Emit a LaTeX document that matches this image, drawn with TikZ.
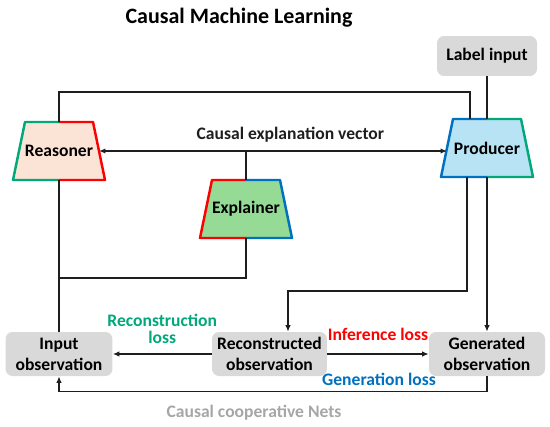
\documentclass[tikz,border=0pt]{standalone}
\usepackage{fontspec}
\setmainfont{Carlito}
\usepackage{tikz}
\usetikzlibrary{arrows.meta,positioning}
\definecolor{CmlInk}{HTML}{1E1E1E}
\definecolor{CmlGray}{HTML}{D9D9D9}
\definecolor{CmlMute}{HTML}{A6A6A6}
\definecolor{CmlGreen}{HTML}{00A87A}
\definecolor{CmlRed}{HTML}{FF0000}
\definecolor{CmlBlue}{HTML}{0070C0}
\definecolor{CmlPeach}{HTML}{FBE3D6}
\definecolor{CmlSky}{HTML}{B8E3F5}
\definecolor{CmlLeaf}{HTML}{95DA95}
% a network: name, x, y, fill, left rim, right rim, text
\newcommand{\trapnet}[7]{%
  \fill[#4] (#2-34,#3-29) -- (#2+34,#3-29) -- (#2+46,#3+29) -- (#2-46,#3+29) -- cycle;
  \draw[half, #5] (#2,#3-29) -- (#2-34,#3-29) -- (#2-46,#3+29) -- (#2,#3+29);
  \draw[half, #6] (#2,#3-29) -- (#2+34,#3-29) -- (#2+46,#3+29) -- (#2,#3+29);
  \node[minimum width=1.6cm, minimum height=1.16cm, inner sep=0pt, outer sep=0pt] (#1) at (#2,#3) {#7};}

\begin{document}
\begin{tikzpicture}[x=0.02cm, y=-0.02cm, font=\fontsize{10}{12}\selectfont\bfseries,
  link/.style={draw=CmlInk, line width=0.8pt},
  tip/.style={-{Latex[length=1.3mm,width=1.1mm]}},
  obsbox/.style={fill=CmlGray, rounded corners=4pt, minimum height=0.88cm, align=center, inner sep=2pt},
  half/.style={line width=1.4pt, line join=round}]
  \useasboundingbox (0,0) rectangle (550,426);
  \node (title) at (239,18) {\fontsize{12.5}{14}\selectfont Causal Machine Learning};
  \node[obsbox, minimum width=2cm, minimum height=0.8cm] (label) at (487,56) {Label input};
  % the three networks
  \trapnet{reasoner}{59}{151}{CmlPeach}{CmlGreen}{CmlRed}{Reasoner}
  \trapnet{producer}{487}{148}{CmlSky}{CmlBlue}{CmlGreen}{Producer}
  \trapnet{explainer}{246}{209}{CmlLeaf}{CmlRed}{CmlBlue}{Explainer}
  % observations
  \node[obsbox, minimum width=2.14cm] (input) at (59,354) {Input\\observation};
  \node[obsbox, minimum width=2.3cm] (reconstructed) at (269.5,354) {Reconstructed\\observation};
  \node[obsbox, minimum width=2.32cm] (generated) at (487,354) {Generated\\observation};
  % connectors
  \draw[link] (reasoner.north) -- ++(0,-30) -| ([xshift=-0.34cm]producer.north);
  \draw[link, {Latex[length=1.3mm,width=1.1mm]}-{Latex[length=1.3mm,width=1.1mm]}] (reasoner.east) -- (reasoner.east -| producer.west)
    node[pos=0.55, above=1.5pt, text=CmlInk] (vector) {Causal explanation vector};
  \draw[link] (explainer.north) -- (explainer.north |- reasoner.east);
  \draw[link] (explainer.south) |- (reasoner.south |- 0,278);
  \draw[link] (reasoner.south) -- (input.north);
  \draw[link] (label.south) -- (producer.north);
  \draw[link, tip] (producer.south) -- (generated.north);
  \draw[link, tip] ([xshift=-0.4cm]producer.south) -- ++(0,114) -| ([xshift=0.37cm]reconstructed.north);
  \draw[link, tip] (reconstructed.west) -- (input.east)
    node[midway, above=2pt, text=CmlGreen, align=center] (recloss) {Reconstruction\\[-2pt]loss};
  \draw[link, tip] (reconstructed.east) -- (generated.west)
    node[midway, above=4pt, text=CmlRed] (infloss) {Inference loss};
  \draw[link, tip] (generated.south) -- ++(0,15) -| (input.south);
  \node[text=CmlBlue] (genloss) at (379,379) {Generation loss};
  \node[text=CmlMute] (nets) at (254,413) {Causal cooperative Nets};
\end{tikzpicture}
\end{document}
